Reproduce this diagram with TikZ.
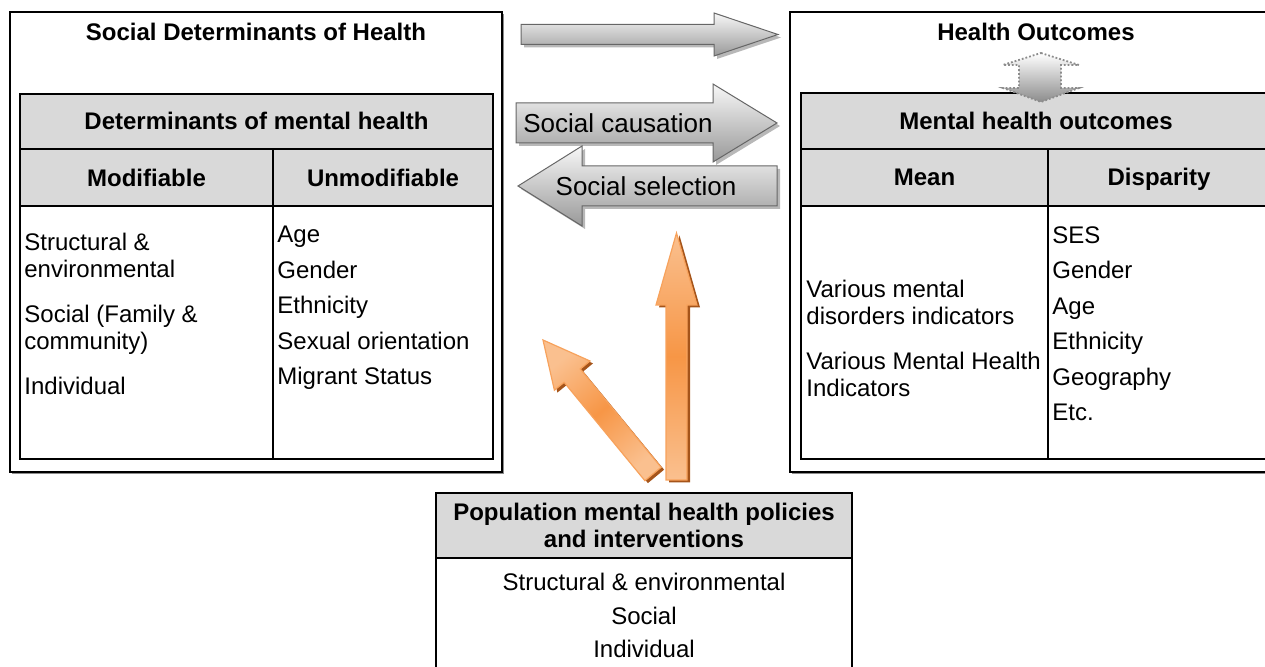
\documentclass[tikz,border=0pt]{standalone}
\usepackage{fontspec}
\setmainfont{Liberation Sans}
\usetikzlibrary{shadows}
\definecolor{headgrey}{HTML}{D9D9D9}
\definecolor{orangelight}{HTML}{FAC08F}
\definecolor{orangemid}{HTML}{F79646}
\definecolor{orangeline}{HTML}{F7A25C}
\definecolor{orangedark}{HTML}{A5541A}
\begin{document}
\begin{tikzpicture}[x=0.5pt, y=-0.5pt,
            every node/.style={inner sep=0pt, font=\fontsize{12}{13.5}\selectfont},
            heading/.style={anchor=base, font=\fontsize{12}{13.5}\selectfont\bfseries},
            items/.style={anchor=north west, align=left},
            spaced/.style={font=\fontsize{12}{17.75}\selectfont},
            frame/.style={draw, line width=0.75pt, fill=white,
                drop shadow={shadow xshift=1pt, shadow yshift=-1pt, fill=black!45, opacity=1}},
            grid/.style={draw, line width=1pt},
            headrow/.style={fill=headgrey},
            greyarrow/.style={draw=black!60, line width=0.5pt, top color=black!3, bottom color=black!40,
                drop shadow={shadow xshift=1.5pt, shadow yshift=-1.5pt, fill=black!35, opacity=0.8}},
            orangearrow/.style={draw=orangeline, line width=0.6pt, top color=orangelight,
                bottom color=orangelight, middle color=orangemid,
                drop shadow={shadow xshift=1.5pt, shadow yshift=-1.2pt, fill=orangedark, opacity=1}},
            updown/.style={draw=black!45, densely dotted, line width=0.9pt, top color=white, bottom color=black!45}]
        \useasboundingbox (0,0) rectangle (1265,667);
        \clip (0,0) rectangle (1265,667);

        \draw [frame] (10,12) rectangle (502,472);
        \fill [headrow] (20,94) rectangle (493,206);
        \draw [grid] (20,94) rectangle (493,459);
        \draw [grid] (20,149) -- (493,149) (20,206) -- (493,206) (273,149) -- (273,459);
        \node [heading] (sdh) at (256,41) {Social Determinants of Health};
        \node [heading] (dmh) at (256.5,130) {Determinants of mental health};
        \node [heading] (modif) at (146.5,187) {Modifiable};
        \node [heading] (unmodif) at (383,187) {Unmodifiable};
        \node [items] (modlist) at (24,233) {Structural \&\\environmental\\[9pt]Social (Family \&\\community)\\[9pt]Individual};
        \node [items, spaced] (unmodlist) at (277,226) {Age\\Gender\\Ethnicity\\Sexual orientation\\Migrant Status};

        \draw [frame] (790,12) rectangle (1282,472);
        \fill [headrow] (801,93) rectangle (1270,206);
        \draw [grid] (801,93) rectangle (1270,459);
        \draw [grid] (801,149) -- (1270,149) (801,206) -- (1270,206) (1048,149) -- (1048,459);
        \node [heading] (ho) at (1036,41) {Health Outcomes};
        \node [heading] (mho) at (1036,130) {Mental health outcomes};
        \node [heading] (mean) at (924.5,186) {Mean};
        \node [heading] (disp) at (1159,186) {Disparity};
        \node [items] (meanlist) at (806,280) {Various mental\\disorders indicators\\[9pt]Various Mental Health\\Indicators};
        \node [items, spaced] (displist) at (1052,226) {SES\\Gender\\Age\\Ethnicity\\Geography\\Etc.};

        \draw [updown] (1041,53) -- (1079,65) -- (1061,65) -- (1061,88) -- (1079,88) -- (1041,102)
            -- (1003,88) -- (1019,88) -- (1019,65) -- (1003,65) -- cycle;

        \fill [headrow] (436,493) rectangle (852,558);
        \draw [grid] (436,680) -- (436,493) -- (852,493) -- (852,680) (436,558) -- (852,558);
        \node [heading, anchor=north, align=center] (pol) at (644,503) {Population mental health policies\\and interventions};
        \node [anchor=north, align=center, font=\fontsize{12}{16.75}\selectfont] (pollist) at (644,573) {Structural \& environmental\\Social\\Individual};

        \draw [greyarrow] (521,24.5) -- (714,24.5) -- (714,13) -- (778,34.5) -- (714,56) -- (714,44.5) -- (521,44.5) -- cycle;
        \draw [greyarrow] (516,103) -- (713,103) -- (713,84) -- (777,123) -- (713,162) -- (713,143) -- (516,143) -- cycle;
        \draw [greyarrow] (777,166) -- (582,166) -- (582,146) -- (518,186) -- (582,226) -- (582,206) -- (777,206) -- cycle;
        \node [font=\fontsize{13}{15}\selectfont] (causation) at (618,123) {Social causation};
        \node [font=\fontsize{13}{15}\selectfont] (selection) at (646,186) {Social selection};

        \draw [orangearrow, shading angle=39.4] (661.1,467.3) -- (580.3,369.0) -- (590.0,361.0) -- (543,340)
            -- (554.4,390.2) -- (564.1,382.3) -- (644.9,480.7) -- cycle;
        \draw [orangearrow] (666,480) -- (666,305) -- (656,305) -- (676.5,233) -- (697,305) -- (687,305) -- (687,480) -- cycle;
    \end{tikzpicture}
\end{document}
